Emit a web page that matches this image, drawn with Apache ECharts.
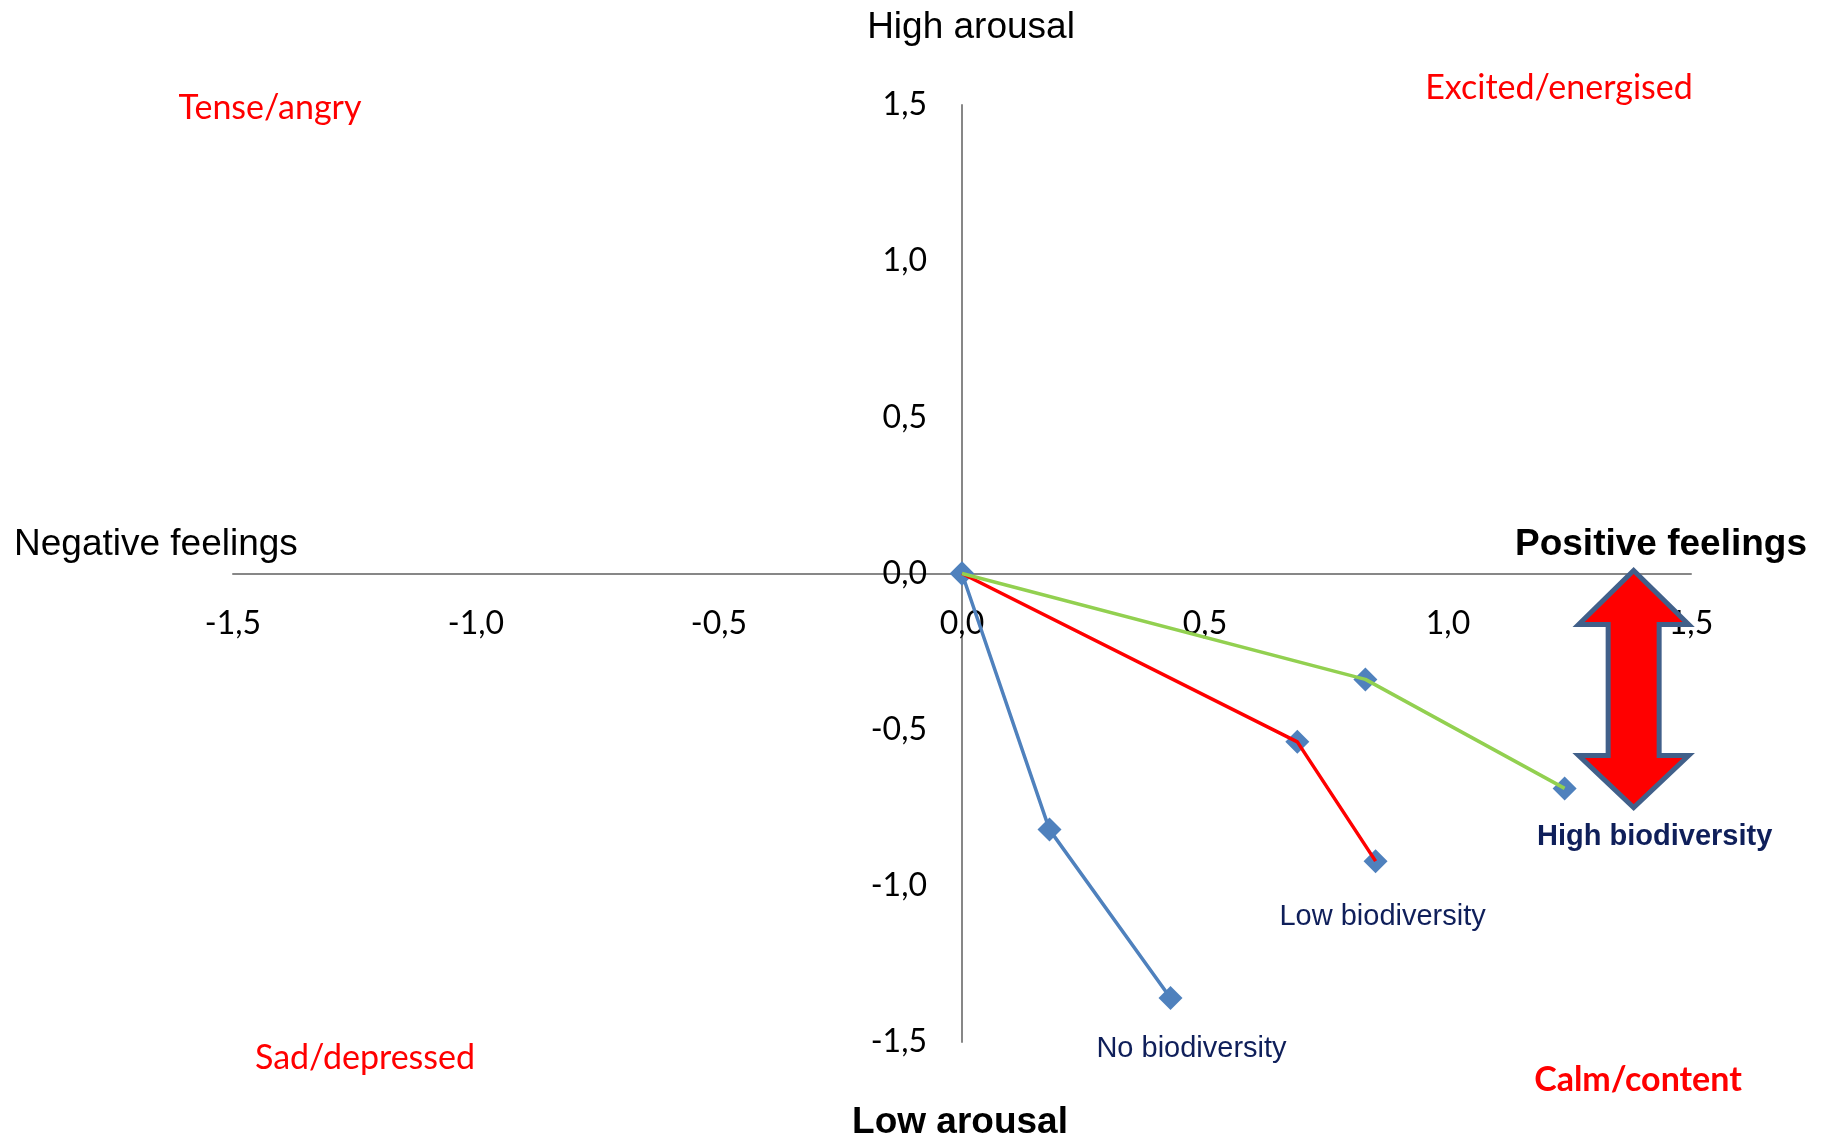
<!DOCTYPE html>
<html>
<head>
<meta charset="utf-8">
<title>Arousal and feelings by biodiversity level</title>
<script src="https://cdn.jsdelivr.net/npm/echarts@6/dist/echarts.min.js"></script>
<style>
  html, body { margin: 0; padding: 0; background: #ffffff; }
  #chart { width: 1824px; height: 1139px; }
</style>
</head>
<body>
<div id="chart"></div>
<script>
// Axis range and ticks (valence on x, arousal on y)
const axisMin = -1.5;
const axisMax = 1.5;
const axisStep = 0.5;

// Each path starts at the origin and moves through two measurements
const noBioX = [0, 0.180, 0.429];
const noBioY = [0, -0.820, -1.359];
const lowBioX = [0, 0.690, 0.851];
const lowBioY = [0, -0.539, -0.921];
const highBioX = [0, 0.830, 1.240];
const highBioY = [0, -0.339, -0.688];

const seriesNames = ['No biodiversity', 'Low biodiversity', 'High biodiversity'];
const lineColors = ['#4F81BD', '#FF0000', '#92D050'];

// Corner captions for the four quadrants
const quadrantLabels = ['Tense/angry', 'Excited/energised', 'Sad/depressed', 'Calm/content'];
const axisEndLabels = ['High arousal', 'Low arousal', 'Negative feelings', 'Positive feelings'];

const pairs = (xs, ys) => xs.map((x, i) => [x, ys[i]]);
const paths = [pairs(noBioX, noBioY), pairs(lowBioX, lowBioY), pairs(highBioX, highBioY)];

const tickFmt = v => v.toFixed(1).replace('.', ',');
const NAVY = '#0F1F5A';
const calibriLike = 'Lato, "Open Sans", sans-serif';
const arialLike = '"Liberation Sans", Arial, sans-serif';

// Offsets of the path names from their end points
const nameOffsets = [[21, 51], [7, 56], [90, 49]];
const nameWeights = ['normal', 'normal', 'bold'];

// Plot area; both axes cross in its middle because the range is symmetric
const gridBox = { left: 233, top: 105, width: 1458, height: 937 };

const chart = echarts.init(document.getElementById('chart'), null, { renderer: 'canvas' });

const axisCommon = {
  type: 'value',
  min: axisMin,
  max: axisMax,
  interval: axisStep,
  splitLine: { show: false },
  axisTick: { show: false },
  axisLine: { onZero: false, lineStyle: { color: '#878787', width: 2 } },
  axisLabel: {
    formatter: tickFmt,
    fontFamily: calibriLike,
    fontSize: 32,
    color: '#000000'
  }
};

const series = [];
// markers sit underneath the connecting lines
paths.forEach((pts, si) => {
  series.push({
    type: 'scatter',
    name: seriesNames[si] + ' points',
    z: 2,
    symbol: 'diamond',
    symbolSize: 24,
    itemStyle: { color: '#4F81BD', opacity: 1 },
    data: pts.map((p, i) => {
      const item = { value: p };
      if (i === pts.length - 1) {
        item.label = {
          show: true,
          formatter: seriesNames[si],
          position: 'inside',
          offset: nameOffsets[si],
          fontFamily: arialLike,
          fontSize: 29,
          fontWeight: nameWeights[si],
          color: NAVY,
          opacity: 1,
          textBorderWidth: 0,
          textBorderColor: 'transparent'
        };
      }
      return item;
    }),
    silent: true
  });
});
paths.forEach((pts, si) => {
  series.push({
    type: 'line',
    name: seriesNames[si],
    z: 3,
    showSymbol: false,
    symbol: 'none',
    lineStyle: { color: lineColors[si], width: 3.5, opacity: 1 },
    data: pts,
    silent: true
  });
});

const textEl = (text, x, y, opts) => ({
  type: 'text',
  x: x,
  y: y,
  style: Object.assign({
    text: text,
    fill: '#000000',
    font: 'normal 37px ' + arialLike,
    textAlign: 'center',
    textVerticalAlign: 'middle'
  }, opts || {})
});

chart.setOption({
  animation: false,
  backgroundColor: '#ffffff',
  grid: Object.assign({ containLabel: false }, gridBox),
  // pull each axis inward so it crosses the other at zero
  xAxis: Object.assign({}, axisCommon, {
    position: 'bottom',
    offset: -gridBox.height / 2,
    axisLabel: Object.assign({}, axisCommon.axisLabel, { margin: 34 })
  }),
  yAxis: Object.assign({}, axisCommon, {
    position: 'left',
    offset: -gridBox.width / 2,
    axisLabel: Object.assign({}, axisCommon.axisLabel, { margin: 35, padding: [3, 0, 0, 0] })
  }),
  series: series
});

// Double-headed arrow next to the high-biodiversity path, anchored on the x axis
const anchor = chart.convertToPixel({ gridIndex: 0 }, [1.382, 0]);
const ax = anchor[0], ay = anchor[1];
const headHalf = 55, shaftHalf = 25.5;
const arrowPts = [
  [ax, ay - 3],
  [ax + headHalf, ay + 51],
  [ax + shaftHalf, ay + 51],
  [ax + shaftHalf, ay + 182],
  [ax + headHalf, ay + 182],
  [ax, ay + 234],
  [ax - headHalf, ay + 182],
  [ax - shaftHalf, ay + 182],
  [ax - shaftHalf, ay + 51],
  [ax - headHalf, ay + 51]
];

const red = '#FF0000';
chart.setOption({
  graphic: [
    textEl(axisEndLabels[0], 971, 28),
    textEl(axisEndLabels[1], 960, 1123, { font: 'bold 37px ' + arialLike }),
    textEl(axisEndLabels[2], 14, 545, { textAlign: 'left' }),
    textEl(axisEndLabels[3], 1807, 545, { textAlign: 'right', font: 'bold 37px ' + arialLike }),
    textEl(quadrantLabels[0], 270, 108, { fill: red, font: 'normal 34px ' + calibriLike }),
    textEl(quadrantLabels[1], 1559, 88, { fill: red, font: 'normal 34px ' + calibriLike }),
    textEl(quadrantLabels[2], 365, 1058, { fill: red, font: 'normal 34px ' + calibriLike }),
    textEl(quadrantLabels[3], 1638, 1080, { fill: red, font: 'bold 34px ' + calibriLike }),
    {
      type: 'polygon',
      z: 10,
      shape: { points: arrowPts },
      style: { fill: red, stroke: '#41608A', lineWidth: 5, lineJoin: 'miter' }
    }
  ]
});
</script>
</body>
</html>
